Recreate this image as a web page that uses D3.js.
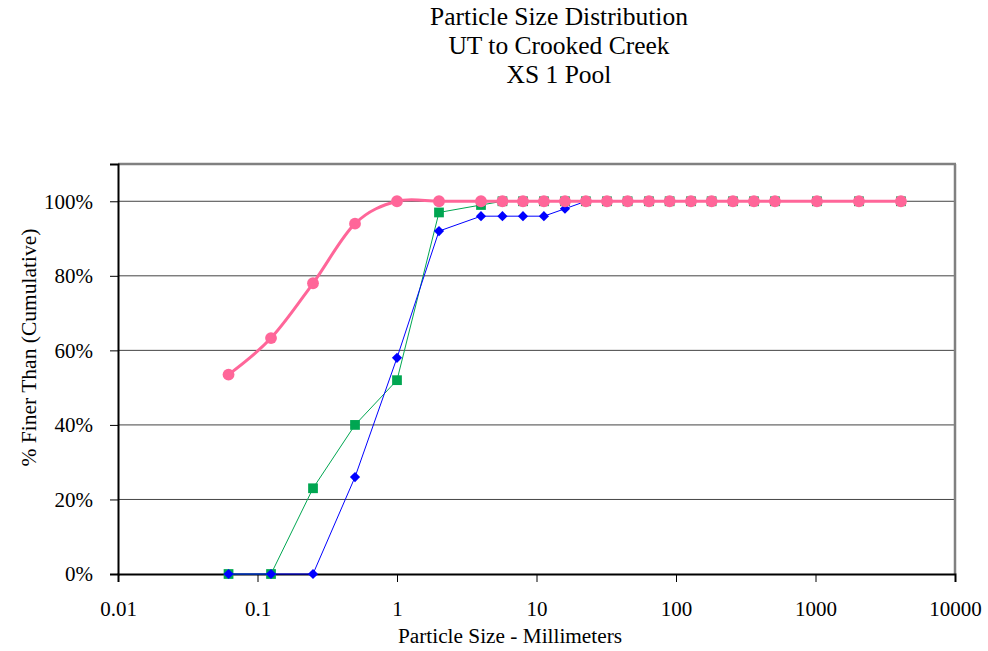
<!DOCTYPE html>
<html><head><meta charset="utf-8">
<script src="https://cdn.jsdelivr.net/npm/d3@7"></script>
<style>body{margin:0;background:#fff}svg{display:block;font-family:"Liberation Serif","Times New Roman",serif}</style>
</head><body><svg id="c" width="988" height="651"></svg>
<script>
const sizes = [0.062,0.125,0.25,0.5,1,2,4,5.7,8,11.3,16,22.6,32,45,64,90,128,180,256,362,512,1024,2048,4096];
const seriesBlue  = [0,0,0,26,58,92,96,96,96,96,98,100,100,100,100,100,100,100,100,100,100,100,100,100];
const seriesGreen = [0,0,23,40,52,97,99,100,100,100,100,100,100,100,100,100,100,100,100,100,100,100,100,100];
const seriesPink  = [53.5,63.3,78,94,100,100,100,100,100,100,100,100,100,100,100,100,100,100,100,100,100,100,100,100];
const xTicks = [0.01,0.1,1,10,100,1000,10000];
const yTicks = [0,20,40,60,80,100];
const titleLines = ["Particle Size Distribution","UT to Crooked Creek","XS 1 Pool"];

const svg = d3.select("#c");
const L=118,R=955,T=164,B=574;
const x = d3.scaleLog().domain([0.01,10000]).range([L,R]);
const y = d3.scaleLinear().domain([0,110]).range([B,T]);

// title
svg.selectAll("text.title").data(titleLines).join("text")
  .attr("x",559).attr("y",(d,i)=>25+i*29).attr("text-anchor","middle")
  .attr("font-size",25.5).text(d=>d);

// gridlines
svg.append("g").selectAll("line").data(yTicks.filter(d=>d>0)).join("line")
  .attr("x1",L).attr("x2",R).attr("y1",d=>y(d)).attr("y2",d=>y(d))
  .attr("stroke","#444").attr("stroke-width",1);
// frame top/right
svg.append("line").attr("x1",L).attr("x2",R+1).attr("y1",T).attr("y2",T).attr("stroke","#808080").attr("stroke-width",2.5);
svg.append("line").attr("x1",R).attr("x2",R).attr("y1",T).attr("y2",B).attr("stroke","#808080").attr("stroke-width",2.5);

// axes
const yAxis = d3.axisLeft(y).tickValues(yTicks).tickSize(8).tickPadding(17).tickFormat(d=>d+"%");
const gy = svg.append("g").attr("transform",`translate(${L},0)`).call(yAxis);
const xAxis = d3.axisBottom(x).tickValues(xTicks).tickSize(8).tickPadding(19).tickFormat(d=>String(d));
const gx = svg.append("g").attr("transform",`translate(0,${B})`).call(xAxis);
[gx,gy].forEach(g=>{
  g.select(".domain").attr("stroke","#000").attr("stroke-width",2);
  g.selectAll(".tick line").attr("stroke","#000");
  g.selectAll(".tick text").attr("font-size",21).attr("fill","#000").attr("font-family","Liberation Serif");
});

// axis titles
svg.append("text").attr("x",510).attr("y",643).attr("text-anchor","middle").attr("font-size",21.3).text("Particle Size - Millimeters");
svg.append("text").attr("transform","translate(36,347.5) rotate(-90)").attr("text-anchor","middle").attr("font-size",21.5).text("% Finer Than (Cumulative)");

const plot = svg.append("g");
function draw(vals,color,width,curve,shape,size,rot){
  const pts = sizes.map((s,i)=>[s,vals[i]]);
  plot.append("path").datum(pts)
    .attr("d",d3.line().x(d=>x(d[0])).y(d=>y(d[1])).curve(curve))
    .attr("fill","none").attr("stroke",color).attr("stroke-width",width);
  plot.append("g").selectAll("path").data(pts).join("path")
    .attr("transform",d=>`translate(${x(d[0])},${y(d[1])})${rot?" rotate(45)":""}`)
    .attr("d",d3.symbol().type(shape).size(size))
    .attr("fill",color);
}
draw(seriesGreen,"#00A651",1,d3.curveLinear,d3.symbolSquare,95,false);
draw(seriesBlue,"#0000FF",1,d3.curveLinear,d3.symbolSquare,52,true);
draw(seriesPink,"#FF6699",3,d3.curveCardinal.tension(0),d3.symbolCircle,110,false);
</script></body></html>
